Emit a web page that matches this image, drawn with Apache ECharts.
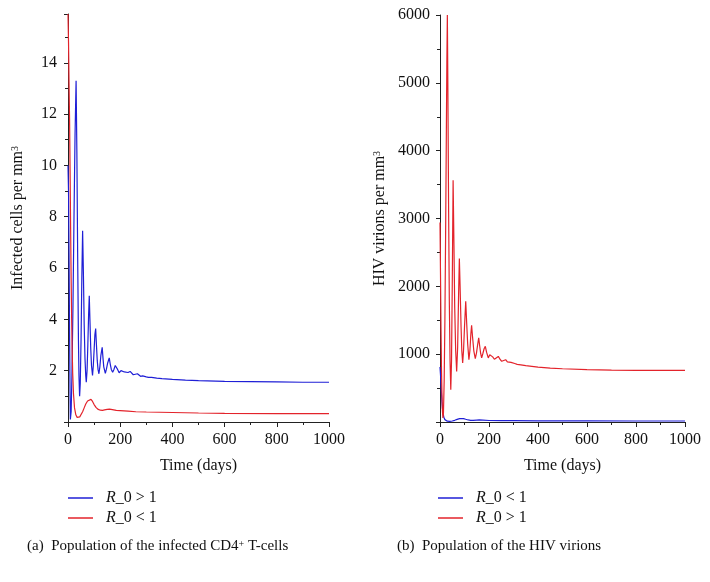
<!DOCTYPE html>
<html>
<head>
<meta charset="utf-8">
<script src="https://cdn.jsdelivr.net/npm/echarts@6/dist/echarts.min.js"></script>
<style>html,body{margin:0;padding:0;background:#fff}#c{width:710px;height:582px}</style>
</head>
<body>
<div id="c"></div>
<script>
// Left panel: infected CD4+ T-cells (time in days, cells per mm^3)
var cellsHighR0 = [[0,10.0],[2,9.0],[4,6.5],[6,3.5],[8,1.0],[9,0.1],[10,0.07],[12,0.4],[15,1.8],[19,4.5],[23,8.0],[27,11.2],[31,13.3],[34,10.5],[37,6.5],[40,3.2],[42,1.8],[44.5,1.0],[47,1.5],[50,3.2],[53,5.6],[56,7.45],[59,5.8],[62,3.8],[65,2.5],[68,1.8],[70,1.55],[73,2.0],[76,3.0],[79,4.2],[81.5,4.92],[84,4.0],[87,2.9],[90,2.2],[94,1.81],[97,2.2],[100,2.8],[103,3.4],[106,3.64],[109,3.0],[112,2.4],[115,2.05],[118.5,1.88],[122,2.15],[126,2.6],[131,2.91],[134,2.5],[137,2.15],[143,1.9],[147,2.05],[152,2.3],[158,2.5],[162,2.25],[166,2.05],[171,1.94],[176,2.05],[181,2.2],[185,2.27],[190,2.05],[196,1.92],[203,2.0],[210,2.07],[216,1.95],[222,1.88],[230,1.93],[238,1.97],[244,1.9],[250,1.84],[258,1.86],[266,1.88],[272,1.82],[278,1.78],[286,1.8],[293,1.81],[300,1.76],[308,1.74],[320,1.74],[340,1.71],[360,1.69],[400,1.66],[450,1.63],[500,1.61],[600,1.58],[700,1.57],[800,1.56],[900,1.55],[1000,1.55]];
var cellsLowR0 = [[0,15.9],[2,14.8],[4,13.2],[6,11.8],[8,9.8],[10,7.6],[12,5.6],[14,4.0],[16,2.8],[18,1.9],[21,1.1],[25,0.55],[30,0.28],[35,0.18],[40,0.17],[45,0.2],[50,0.27],[56,0.4],[62,0.55],[68,0.7],[75,0.82],[82,0.88],[88,0.88],[94,0.8],[100,0.68],[108,0.56],[116,0.49],[124,0.46],[132,0.45],[140,0.47],[150,0.49],[159,0.5],[170,0.48],[185,0.45],[200,0.44],[230,0.42],[260,0.4],[300,0.39],[350,0.38],[400,0.37],[500,0.35],[600,0.34],[800,0.33],[1000,0.33]];
// Right panel: HIV virions per mm^3
var virionsLowR0 = [[0,810],[2,700],[4,560],[6,420],[8,300],[10,200],[13,120],[16,65],[20,35],[25,18],[30,12],[40,10],[50,15],[60,25],[70,38],[80,50],[88,55],[96,50],[105,40],[115,30],[125,25],[135,24],[150,28],[160,30],[175,27],[200,22],[250,20],[300,19],[400,18],[600,16],[800,15],[1000,15]];
var virionsHighR0 = [[0,2940],[2,2200],[4,1400],[6,800],[8,400],[10,150],[12,60],[14,120],[17,600],[20,1500],[23,2800],[26,4300],[28,5300],[30,6000],[32,5000],[35,3200],[38,1800],[41,900],[44,475],[47,900],[50,2000],[53.5,3563],[57,2600],[60,1700],[64,1050],[68,745],[72,1100],[76,1900],[79,2410],[82,2000],[86,1400],[89,1050],[92.5,870],[96,1050],[100,1400],[105,1780],[109,1450],[113,1150],[118,920],[122,1050],[126,1300],[129,1425],[133,1250],[138,1050],[144,935],[149,1020],[154,1150],[158,1240],[162,1120],[166,1010],[170,945],[175,1010],[180,1080],[185,1115],[190,1030],[197,945],[203,990],[209,1016],[215,960],[222,925],[230,950],[238,967],[245,925],[252,895],[260,910],[268,918],[275,885],[283,868],[290,880],[298,885],[305,862],[315,850],[330,843],[350,830],[400,810],[450,795],[500,785],[600,771],[700,765],[800,762],[900,761],[1000,760]];

var xTicks = [0,200,400,600,800,1000];
var leftNames = ['R_0 > 1', 'R_0 < 1'];
var rightNames = ['R_0 < 1 ', 'R_0 > 1 '];
var captionA = '(a)  Population of the infected CD4{sup|+} T-cells';
var captionB = '(b)  Population of the HIV virions';

var BLUE = '#1f1fd6', RED = '#e3232b';
var FONT = 'Liberation Serif';
var axisCol = '#222';
var plain = function(v){ return String(v); };

function xAxisFor(gi){
  return {type:'value', gridIndex:gi, min:xTicks[0], max:xTicks[xTicks.length-1], interval:200,
    name:'Time (days)', nameLocation:'middle', nameGap:36,
    nameTextStyle:{fontFamily:FONT, fontSize:16, color:'#111'},
    axisLine:{lineStyle:{color:axisCol, width:1}},
    axisTick:{length:5, lineStyle:{color:axisCol}},
    minorTick:{show:true, splitNumber:2, length:3, lineStyle:{color:axisCol}},
    splitLine:{show:false},
    axisLabel:{fontFamily:FONT, fontSize:16, color:'#111', margin:10, formatter:plain}};
}
var supRich = {sup:{fontFamily:FONT, fontSize:10, verticalAlign:'top', color:'#111'}};

var legendFmt = function(name){
  var n = name.trim();
  return '{i|R}' + n.substring(1);
};
var legendRich = {i:{fontStyle:'italic', fontFamily:FONT, fontSize:16, color:'#111'}};

var chart = echarts.init(document.getElementById('c'), null, {renderer:'canvas'});
chart.setOption({
  animation:false,
  backgroundColor:'#fff',
  grid:[
    {left:68, top:14, width:261, height:408},
    {left:440, top:15, width:245, height:407}
  ],
  xAxis:[xAxisFor(0), xAxisFor(1)],
  yAxis:[
    {type:'value', gridIndex:0, min:0, max:15.9, interval:2,
     name:'Infected cells per mm{sup|3}', nameLocation:'middle', nameGap:42,
     nameTextStyle:{fontFamily:FONT, fontSize:16, color:'#111', rich:supRich},
     axisLine:{show:true, lineStyle:{color:axisCol}},
     axisTick:{show:true, length:4, lineStyle:{color:axisCol}},
     minorTick:{show:true, splitNumber:2, length:3, lineStyle:{color:axisCol}},
     splitLine:{show:false},
     axisLabel:{fontFamily:FONT, fontSize:16, color:'#111', margin:11, showMinLabel:false, showMaxLabel:false, formatter:plain}},
    {type:'value', gridIndex:1, min:0, max:6000, interval:1000,
     name:'HIV virions per mm{sup|3}', nameLocation:'middle', nameGap:52,
     nameTextStyle:{fontFamily:FONT, fontSize:16, color:'#111', rich:supRich},
     axisLine:{show:true, lineStyle:{color:axisCol}},
     axisTick:{show:true, length:4, lineStyle:{color:axisCol}},
     minorTick:{show:true, splitNumber:2, length:3, lineStyle:{color:axisCol}},
     splitLine:{show:false},
     axisLabel:{fontFamily:FONT, fontSize:16, color:'#111', margin:10, showMinLabel:false, formatter:plain}}
  ],
  legend:[
    {data:leftNames, orient:'vertical', left:68, top:490, padding:0, itemGap:4,
     icon:'rect', itemWidth:25, itemHeight:1.5, formatter:legendFmt,
     textStyle:{fontFamily:FONT, fontSize:16, color:'#111', lineHeight:16, padding:[0,0,0,8], rich:legendRich}},
    {data:rightNames, orient:'vertical', left:438, top:490, padding:0, itemGap:4,
     icon:'rect', itemWidth:25, itemHeight:1.5, formatter:legendFmt,
     textStyle:{fontFamily:FONT, fontSize:16, color:'#111', lineHeight:16, padding:[0,0,0,8], rich:legendRich}}
  ],
  graphic:[
    {type:'text', left:27, top:539, style:{text:captionA, fontFamily:FONT, fontSize:15, fill:'#111',
      rich:{sup:{fontFamily:FONT, fontSize:10, verticalAlign:'top', fill:'#111'}}}},
    {type:'text', left:397, top:539, style:{text:captionB, fontFamily:FONT, fontSize:15, fill:'#111'}}
  ],
  series:[
    {name:leftNames[0], type:'line', xAxisIndex:0, yAxisIndex:0, data:cellsHighR0, showSymbol:false, color:BLUE, lineStyle:{width:1.2, color:BLUE}},
    {name:leftNames[1], type:'line', xAxisIndex:0, yAxisIndex:0, data:cellsLowR0, showSymbol:false, color:RED, lineStyle:{width:1.2, color:RED}},
    {name:rightNames[0], type:'line', xAxisIndex:1, yAxisIndex:1, data:virionsLowR0, showSymbol:false, color:BLUE, lineStyle:{width:1.2, color:BLUE}},
    {name:rightNames[1], type:'line', xAxisIndex:1, yAxisIndex:1, data:virionsHighR0, showSymbol:false, color:RED, lineStyle:{width:1.2, color:RED}}
  ]
});
</script>
</body>
</html>
